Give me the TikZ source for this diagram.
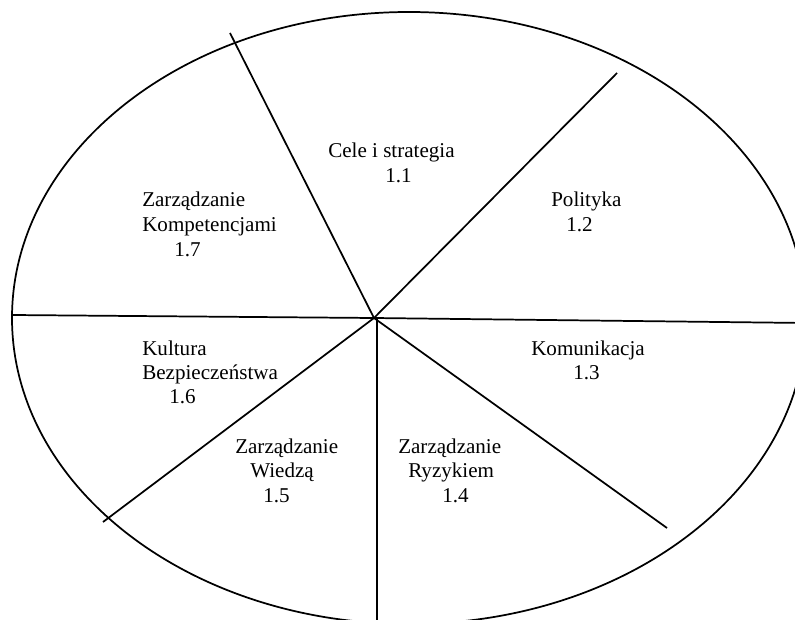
\documentclass[tikz,border=0pt]{standalone}
\usepackage{fontspec}
\setmainfont{Liberation Serif}
\tikzset{
  rim/.style={line width=1.3pt},
  lbl/.style={anchor=base west,inner sep=0pt,font=\fontsize{15.8}{19}\selectfont}
}
\begin{document}
\begin{tikzpicture}[x=0.75pt,y=0.75pt,yscale=-1,xscale=1]
    \useasboundingbox (0,0) rectangle (795,620);
    \clip (0,0) rectangle (795,620);

    %Shape: Ellipse
    \draw [rim] (409,318) ellipse (397 and 306);

    % hub and rim ends of the dividers
    \coordinate (hub) at (374,318);
    \coordinate (hubv) at (377,318);
    \coordinate (endTL) at (230,33);
    \coordinate (endTR) at (617,73);
    \coordinate (endBR) at (667,528);
    \coordinate (endBL) at (103,522);
    \coordinate (endB) at (377,630);
    \coordinate (endL) at (12,315);
    \coordinate (endR) at (806,323);

    %Straight Lines
    \draw [rim] (endL) -- (hub) -- (endR);
    \draw [rim] (hub) -- (endTL);
    \draw [rim] (hub) -- (endTR);
    \draw [rim] (hub) -- (endBR);
    \draw [rim] (hub) -- (endBL);
    \draw [rim] (hubv) -- (endB);

    % Text Node
    \node (celeTxt) at (328,158) [lbl] {Cele i strategia};
    \node (celeNo) at (385,183) [lbl] {1.1};
    % Text Node
    \node (polTxt) at (551,207) [lbl] {Polityka};
    \node (polNo) at (566,232) [lbl] {1.2};
    % Text Node
    \node (komTxt) at (531,355) [lbl] {Komunikacja};
    \node (komNo) at (573,379) [lbl] {1.3};
    % Text Node
    \node (ryzTxtA) at (398,453) [lbl] {Zarządzanie};
    \node (ryzTxtB) at (408,477) [lbl] {Ryzykiem};
    \node (ryzNo) at (442,502) [lbl] {1.4};
    % Text Node
    \node (wieTxtA) at (235,453) [lbl] {Zarządzanie};
    \node (wieTxtB) at (250,477) [lbl] {Wiedzą};
    \node (wieNo) at (263,502) [lbl] {1.5};
    % Text Node
    \node (kulTxtA) at (142,355) [lbl] {Kultura};
    \node (kulTxtB) at (142,379) [lbl] {Bezpieczeństwa};
    \node (kulNo) at (169,403) [lbl] {1.6};
    % Text Node
    \node (kmpTxtA) at (142,207) [lbl] {Zarządzanie};
    \node (kmpTxtB) at (142,232) [lbl] {Kompetencjami};
    \node (kmpNo) at (174,256) [lbl] {1.7};

\end{tikzpicture}
\end{document}
